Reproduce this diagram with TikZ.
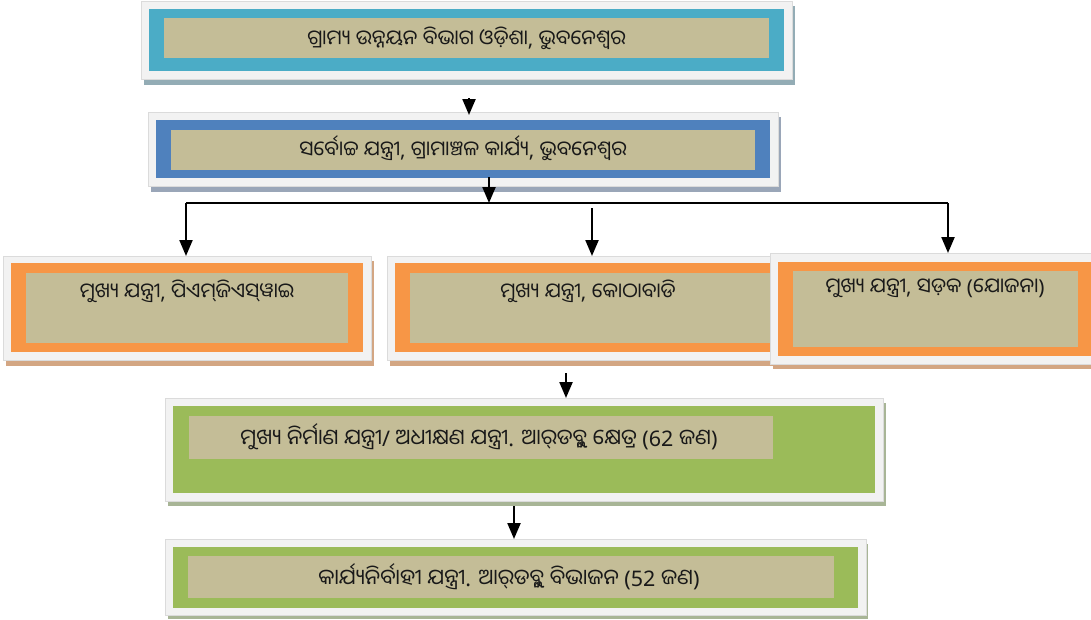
\documentclass[tikz,border=0pt]{standalone}
\usepackage{fontspec}
\newfontfamily\oriya[Script=Oriya]{Noto Sans Oriya UI}
\newfontfamily\latn{Noto Sans}
\usetikzlibrary{arrows.meta}
\definecolor{framegray}{HTML}{F2F2F2}
\definecolor{tealc}{HTML}{4BACC6}
\definecolor{bluec}{HTML}{4F81BD}
\definecolor{tanc}{HTML}{C4BD97}
\definecolor{orangec}{HTML}{F79646}
\definecolor{greenc}{HTML}{9BBB59}
\definecolor{shteal}{HTML}{93ACB5}
\definecolor{shblue}{HTML}{9AA6B8}
\definecolor{shorange}{HTML}{D3A683}
\definecolor{shgreen}{HTML}{A8B596}
\tikzset{
  framebox/.style={draw=black!14, line width=0.6pt, fill=framegray, inner sep=0pt, outer sep=0pt},
  txt/.style={inner sep=0pt, font=\oriya\fontsize{20.5}{24}\selectfont, text=black!90},
  txtb/.style={txt, font=\oriya\fontsize{21.5}{25}\selectfont},
  conn/.style={draw=black, line width=2.2pt},
  arr/.style={conn, -{Triangle[width=13pt,length=16pt]}}
}
\begin{document}
\begin{tikzpicture}[x=1pt,y=-1pt]
\useasboundingbox (0,0) rectangle (1091,619);
\fill[white] (0,0) rectangle (1091,619);
% Box 1
\fill[shteal] (144,6) rectangle (795,85);
\node[framebox, minimum width=651pt, minimum height=78pt] (b1) at (466.5,40) {};
\fill[tealc] (149,9) rectangle (784,71);
\fill[tanc] (164,18) rectangle (769,58);
\node[txt] (t1) at (466.5,38) {ଗ୍ରାମ୍ୟ ଉନ୍ନୟନ ବିଭାଗ ଓଡ଼ିଶା{\latn,} ଭୁବନେଶ୍ୱର};
% Box 2
\fill[shblue] (151,117) rectangle (781,192);
\node[framebox, minimum width=630pt, minimum height=74pt] (b2) at (463,149) {};
\fill[bluec] (156,120) rectangle (770,178);
\fill[tanc] (171,130) rectangle (755,170);
\node[txt] (t2) at (463,148) {ସର୍ବୋଚ୍ଚ ଯନ୍ତ୍ରୀ{\latn,} ଗ୍ରାମାଞ୍ଚଳ କାର୍ଯ୍ୟ{\latn,} ଭୁବନେଶ୍ୱର};
% Box 3
\fill[shorange] (6,261) rectangle (374,366);
\node[framebox, minimum width=367.5pt, minimum height=104pt] (b3) at (187.25,308) {};
\fill[orangec] (11,263) rectangle (363,352);
\fill[tanc] (26,273) rectangle (348,343);
\node[txt] (t3) at (187,291) {ମୁଖ୍ୟ ଯନ୍ତ୍ରୀ{\latn,} ପିଏମ୍‌ଜିଏସ୍‌ୱାଇ};
% Box 4
\fill[shorange] (390,261) rectangle (800,366);
\node[framebox, minimum width=410pt, minimum height=104pt] (b4) at (592,308) {};
\fill[orangec] (395,263) rectangle (789,352);
\fill[tanc] (410,273) rectangle (774,343);
\node[txt] (t4) at (588,291) {ମୁଖ୍ୟ ଯନ୍ତ୍ରୀ{\latn,} କୋଠାବାଡି};
% Box 5
\fill[shorange] (773,258) rectangle (1103,369);
\node[framebox, minimum width=330pt, minimum height=111pt] (b5) at (935,308.5) {};
\fill[orangec] (778,262) rectangle (1092,356);
\fill[tanc] (793,271) rectangle (1078,347);
\node[txt] (t5) at (935,288) {ମୁଖ୍ୟ ଯନ୍ତ୍ରୀ{\latn,} ସଡ଼କ {\latn(}ଯୋଜନା{\latn)}};
% Box 6
\fill[shgreen] (168,403) rectangle (886,506);
\node[framebox, minimum width=718pt, minimum height=103pt] (b6) at (524,449.5) {};
\fill[greenc] (173,406) rectangle (875,493);
\fill[tanc] (189,416) rectangle (773,459);
\node[txtb] (t6) at (479,437) {ମୁଖ୍ୟ ନିର୍ମାଣ ଯନ୍ତ୍ରୀ{\latn/} ଅଧୀକ୍ଷଣ ଯନ୍ତ୍ରୀ{\latn.} ଆର୍‌ଡବ୍ଲୁ କ୍ଷେତ୍ର {\latn(62} ଜଣ{\latn)}};
% Box 7
\fill[shgreen] (168,544) rectangle (868,619);
\node[framebox, minimum width=701pt, minimum height=76pt] (b7) at (515.5,577) {};
\fill[greenc] (173,547) rectangle (858,608);
\fill[tanc] (188,556) rectangle (834,598);
\node[txtb] (t7) at (509,577) {କାର୍ଯ୍ୟନିର୍ବାହୀ ଯନ୍ତ୍ରୀ{\latn.} ଆର୍‌ଡବ୍ଲୁ ବିଭାଜନ {\latn(52} ଜଣ{\latn)}};
% Connectors
\coordinate (a1) at (469,98);
\draw[arr] (a1) -- ([yshift=-3pt]a1 |- b2.north);
\coordinate (j) at (489,203);
\coordinate (hl) at (186,203);
\coordinate (hr) at (948,203);
\draw[arr] ([yshift=9pt]j |- b2.south) -- (j);
\draw[conn] (hl) -- (hr);
\draw[arr] (hl) -- (hl |- b3.north);
\coordinate (m) at (592,208);
\draw[arr] (m) -- (m |- b4.north);
\draw[arr] (hr) -- (hr |- b5.north);
\coordinate (c4) at (566,373);
\draw[arr] (c4) -- (c4 |- b6.north);
\coordinate (c5) at (514,506);
\draw[arr] (c5) -- (c5 |- b7.north);
\end{tikzpicture}
\end{document}
